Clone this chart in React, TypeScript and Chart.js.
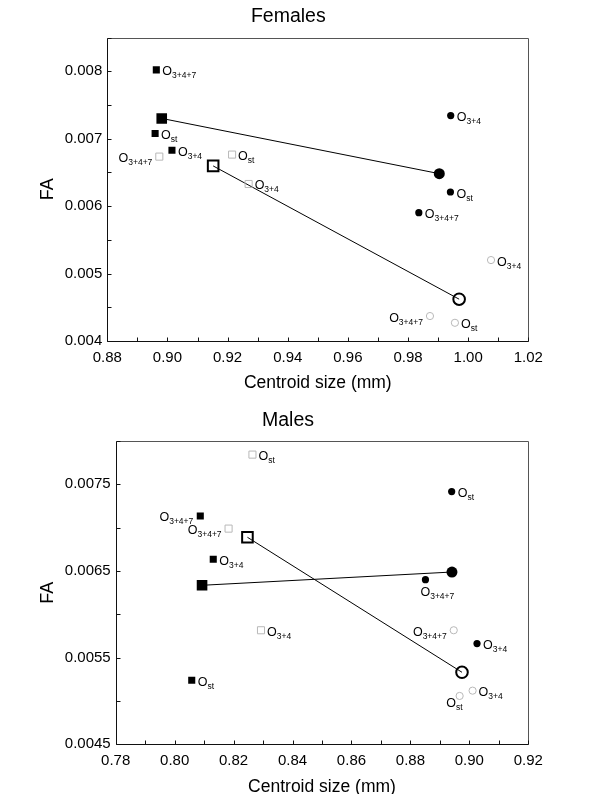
import React, { useEffect, useRef } from 'react';
import { Chart, registerables } from 'chart.js';

Chart.register(...registerables);

const FONT = "'Liberation Sans', Arial, sans-serif";

// ---------- Females ----------
const femaleXTicks = [0.88, 0.89, 0.9, 0.91, 0.92, 0.93, 0.94, 0.95, 0.96, 0.97, 0.98, 0.99, 1.0, 1.01, 1.02];
const femaleXTickLabels = ['0.88', '0.90', '0.92', '0.94', '0.96', '0.98', '1.00', '1.02'];
const femaleYTicks = [0.004, 0.0045, 0.005, 0.0055, 0.006, 0.0065, 0.007, 0.0075, 0.008, 0.0085];
const femaleYTickLabels = ['0.004', '0.005', '0.006', '0.007', '0.008'];

const femaleFilledSqX = [0.8963, 0.8959, 0.9015];
const femaleFilledSqY = [0.00802, 0.007076, 0.006828];
const femaleFilledSqLabels = ['3+4+7', 'st', '3+4'];

const femaleOpenSqX = [0.8973, 0.9215, 0.927];
const femaleOpenSqY = [0.006734, 0.006764, 0.006328];
const femaleOpenSqLabels = ['3+4+7', 'st', '3+4'];

const femaleFilledCircX = [0.9942, 0.9941, 0.9836];
const femaleFilledCircY = [0.007343, 0.006209, 0.005902];
const femaleFilledCircLabels = ['3+4', 'st', '3+4+7'];

const femaleOpenCircX = [1.0076, 0.9873, 0.9956];
const femaleOpenCircY = [0.0052, 0.00437, 0.00427];
const femaleOpenCircLabels = ['3+4', '3+4+7', 'st'];

const femaleFilledMeanX = [0.8981, 0.9904];
const femaleFilledMeanY = [0.0073, 0.006481];
const femaleOpenMeanX = [0.9152, 0.997];
const femaleOpenMeanY = [0.006596, 0.00462];

// ---------- Males ----------
const maleXTicks = [0.78, 0.79, 0.8, 0.81, 0.82, 0.83, 0.84, 0.85, 0.86, 0.87, 0.88, 0.89, 0.9, 0.91, 0.92];
const maleXTickLabels = ['0.78', '0.80', '0.82', '0.84', '0.86', '0.88', '0.90', '0.92'];
const maleYTicks = [0.0045, 0.005, 0.0055, 0.006, 0.0065, 0.007, 0.0075, 0.008];
const maleYTickLabels = ['0.0045', '0.0055', '0.0065', '0.0075'];

const maleFilledSqX = [0.8087, 0.8131, 0.8058];
const maleFilledSqY = [0.007135, 0.006635, 0.005239];
const maleFilledSqLabels = ['3+4+7', '3+4', 'st'];

const maleOpenSqX = [0.8264, 0.8183, 0.8293];
const maleOpenSqY = [0.007843, 0.006989, 0.005816];
const maleOpenSqLabels = ['st', '3+4+7', '3+4'];

const maleFilledCircX = [0.894, 0.8851, 0.9026];
const maleFilledCircY = [0.007416, 0.0064, 0.005662];
const maleFilledCircLabels = ['st', '3+4+7', '3+4'];

const maleOpenCircX = [0.8947, 0.9011, 0.8967];
const maleOpenCircY = [0.005816, 0.005119, 0.005058];
const maleOpenCircLabels = ['3+4+7', '3+4', 'st'];

const maleFilledMeanX = [0.8093, 0.8941];
const maleFilledMeanY = [0.006335, 0.006488];
const maleOpenMeanX = [0.8247, 0.8975];
const maleOpenMeanY = [0.006889, 0.005331];

// label placement (style): r = right, l = left, b = below, bl = below-left
const femalePlace = {
  filledSq: ['r', 'r', 'r'],
  openSq: ['l', 'r', 'r'],
  filledCirc: ['r', 'r', 'r'],
  openCirc: ['r', 'l', 'r'],
};
const malePlace = {
  filledSq: ['l', 'r', 'r'],
  openSq: ['r', 'l', 'r'],
  filledCirc: ['r', 'b', 'r'],
  openCirc: ['l', 'r', 'bl'],
};

const GRAY = '#b8b8b8';

type Spec = {
  title: string;
  xTicks: number[];
  xTickLabels: string[];
  yTicks: number[];
  yTickLabels: string[];
  groups: { x: number[]; y: number[]; labels: string[]; place: string[]; kind: string }[];
  filledMean: { x: number[]; y: number[] };
  openMean: { x: number[]; y: number[] };
  layout: { top: number; right: number; yWidth: number; xHeight: number; titleX: number; titleY: number };
};

const pts = (xs: number[], ys: number[]) => xs.map((x, i) => ({ x, y: ys[i] }));

function groupStyle(kind: string) {
  switch (kind) {
    case 'filledSq':
      return { pointStyle: 'rect', pointRadius: 5, pointBackgroundColor: '#000', pointBorderColor: '#000', pointBorderWidth: 0 };
    case 'openSq':
      return { pointStyle: 'rect', pointRadius: 5, pointBackgroundColor: 'rgba(255,255,255,0)', pointBorderColor: GRAY, pointBorderWidth: 1 };
    case 'filledCirc':
      return { pointStyle: 'circle', pointRadius: 3.6, pointBackgroundColor: '#000', pointBorderColor: '#000', pointBorderWidth: 0 };
    default:
      return { pointStyle: 'circle', pointRadius: 3.6, pointBackgroundColor: 'rgba(255,255,255,0)', pointBorderColor: GRAY, pointBorderWidth: 1 };
  }
}

function drawLabel(ctx: CanvasRenderingContext2D, px: number, py: number, sub: string, place: string) {
  const oFont = `12.5px ${FONT}`;
  const sFont = `8.5px ${FONT}`;
  ctx.font = oFont;
  const wO = ctx.measureText('O').width;
  ctx.font = sFont;
  const wS = ctx.measureText(sub).width;
  const total = wO + wS;
  let sx = px + 6;
  let cy = py + 1;
  if (place === 'l') {
    sx = px - 7 - total;
  } else if (place === 'b') {
    sx = px - 5;
    cy = py + 12;
  } else if (place === 'bl') {
    sx = px + 3 - total;
    cy = py + 7;
  }
  const base = cy + 4.5;
  ctx.fillStyle = '#000';
  ctx.textAlign = 'left';
  ctx.textBaseline = 'alphabetic';
  ctx.font = oFont;
  ctx.fillText('O', sx, base);
  ctx.font = sFont;
  ctx.fillText(sub, sx + wO, base + 3);
}

function makeConfig(spec: Spec): any {
  const datasets: any[] = spec.groups.map((g) => ({
    data: pts(g.x, g.y),
    showLine: false,
    ...groupStyle(g.kind),
  }));
  datasets.push({
    data: pts(spec.filledMean.x, spec.filledMean.y),
    showLine: true,
    borderColor: '#000',
    borderWidth: 1,
    pointStyle: ['rect', 'circle'],
    pointRadius: [7.5, 5.5],
    pointBackgroundColor: '#000',
    pointBorderColor: '#000',
    pointBorderWidth: 0,
  });
  datasets.push({
    data: pts(spec.openMean.x, spec.openMean.y),
    showLine: true,
    borderColor: '#000',
    borderWidth: 1,
    pointStyle: ['rect', 'circle'],
    pointRadius: [7.5, 5.8],
    pointBackgroundColor: 'rgba(255,255,255,0)',
    pointBorderColor: '#000',
    pointBorderWidth: 2,
  });

  const L = spec.layout;

  const decor = {
    id: 'decor',
    afterDraw(chart: any) {
      const ctx: CanvasRenderingContext2D = chart.ctx;
      const { left, right, top, bottom } = chart.chartArea;
      const l = Math.round(left) + 0.5;
      const r = Math.round(right) + 0.5;
      const t = Math.round(top) + 0.5;
      const b = Math.round(bottom) + 0.5;
      ctx.save();
      ctx.lineWidth = 1;
      // box
      ctx.strokeStyle = '#555';
      ctx.beginPath();
      ctx.moveTo(l, t);
      ctx.lineTo(r, t);
      ctx.lineTo(r, b);
      ctx.stroke();
      ctx.strokeStyle = '#111';
      ctx.beginPath();
      ctx.moveTo(l, t);
      ctx.lineTo(l, b);
      ctx.lineTo(r, b);
      ctx.stroke();
      // inward ticks
      const xs = chart.scales.x;
      const ys = chart.scales.y;
      ctx.beginPath();
      xs.ticks.forEach((_: any, i: number) => {
        const p = Math.round(xs.getPixelForTick(i)) + 0.5;
        ctx.moveTo(p, b);
        ctx.lineTo(p, b - 4);
      });
      ys.ticks.forEach((_: any, i: number) => {
        const p = Math.round(ys.getPixelForTick(i)) + 0.5;
        ctx.moveTo(l, p);
        ctx.lineTo(l + 4, p);
      });
      ctx.stroke();

      // point labels
      spec.groups.forEach((g, di) => {
        const meta = chart.getDatasetMeta(di);
        meta.data.forEach((el: any, j: number) => {
          drawLabel(ctx, el.x, el.y, g.labels[j], g.place[j]);
        });
      });

      // titles
      ctx.fillStyle = '#000';
      ctx.textAlign = 'center';
      ctx.textBaseline = 'alphabetic';
      ctx.font = `19.5px ${FONT}`;
      ctx.fillText(spec.title, L.titleX, L.titleY);

      ctx.font = `17.5px ${FONT}`;
      ctx.fillText('Centroid size (mm)', (left + right) / 2, bottom + 47.2);

      ctx.save();
      ctx.translate(45.4, (top + bottom) / 2);
      ctx.rotate(-Math.PI / 2);
      ctx.font = `18px ${FONT}`;
      ctx.fillText('FA', 0, 0);
      ctx.restore();

      ctx.restore();
    },
  };

  return {
    type: 'scatter',
    data: { datasets },
    options: {
      animation: false,
      responsive: true,
      maintainAspectRatio: false,
      events: [],
      layout: { padding: { top: L.top, right: L.right, left: 0, bottom: 0 } },
      plugins: { legend: { display: false }, tooltip: { enabled: false }, title: { display: false } },
      scales: {
        x: {
          type: 'linear',
          min: spec.xTicks[0],
          max: spec.xTicks[spec.xTicks.length - 1],
          border: { display: false },
          grid: { display: false, drawTicks: false, tickLength: 0 },
          afterBuildTicks: (scale: any) => {
            scale.ticks = spec.xTicks.map((value) => ({ value }));
          },
          afterFit: (scale: any) => {
            scale.height = L.xHeight;
          },
          ticks: {
            autoSkip: false,
            maxRotation: 0,
            padding: 8,
            color: '#000',
            font: { family: FONT, size: 15 },
            callback: (_v: any, i: number) => (i % 2 === 0 ? spec.xTickLabels[i / 2] : ''),
          },
        },
        y: {
          type: 'linear',
          min: spec.yTicks[0],
          max: spec.yTicks[spec.yTicks.length - 1],
          border: { display: false },
          grid: { display: false, drawTicks: false, tickLength: 0 },
          afterBuildTicks: (scale: any) => {
            scale.ticks = spec.yTicks.map((value) => ({ value }));
          },
          afterFit: (scale: any) => {
            scale.width = L.yWidth;
          },
          ticks: {
            autoSkip: false,
            padding: 5,
            color: '#000',
            font: { family: FONT, size: 15 },
            callback: (_v: any, i: number) => (i % 2 === 0 ? spec.yTickLabels[i / 2] : ''),
          },
        },
      },
    },
    plugins: [decor],
  };
}

const femaleSpec: Spec = {
  title: 'Females',
  xTicks: femaleXTicks,
  xTickLabels: femaleXTickLabels,
  yTicks: femaleYTicks,
  yTickLabels: femaleYTickLabels,
  groups: [
    { x: femaleFilledSqX, y: femaleFilledSqY, labels: femaleFilledSqLabels, place: femalePlace.filledSq, kind: 'filledSq' },
    { x: femaleOpenSqX, y: femaleOpenSqY, labels: femaleOpenSqLabels, place: femalePlace.openSq, kind: 'openSq' },
    { x: femaleFilledCircX, y: femaleFilledCircY, labels: femaleFilledCircLabels, place: femalePlace.filledCirc, kind: 'filledCirc' },
    { x: femaleOpenCircX, y: femaleOpenCircY, labels: femaleOpenCircLabels, place: femalePlace.openCirc, kind: 'openCirc' },
  ],
  filledMean: { x: femaleFilledMeanX, y: femaleFilledMeanY },
  openMean: { x: femaleOpenMeanX, y: femaleOpenMeanY },
  layout: { top: 29.5, right: 63.7, yWidth: 99.3, xHeight: 60, titleX: 280.3, titleY: 14 },
};

const maleSpec: Spec = {
  title: 'Males',
  xTicks: maleXTicks,
  xTickLabels: maleXTickLabels,
  yTicks: maleYTicks,
  yTickLabels: maleYTickLabels,
  groups: [
    { x: maleFilledSqX, y: maleFilledSqY, labels: maleFilledSqLabels, place: malePlace.filledSq, kind: 'filledSq' },
    { x: maleOpenSqX, y: maleOpenSqY, labels: maleOpenSqLabels, place: malePlace.openSq, kind: 'openSq' },
    { x: maleFilledCircX, y: maleFilledCircY, labels: maleFilledCircLabels, place: malePlace.filledCirc, kind: 'filledCirc' },
    { x: maleOpenCircX, y: maleOpenCircY, labels: maleOpenCircLabels, place: malePlace.openCirc, kind: 'openCirc' },
  ],
  filledMean: { x: maleFilledMeanX, y: maleFilledMeanY },
  openMean: { x: maleOpenMeanX, y: maleOpenMeanY },
  layout: { top: 40, right: 63.7, yWidth: 107.7, xHeight: 49.7, titleX: 280, titleY: 25 },
};

function Panel({ spec, height }: { spec: Spec; height: number }) {
  const ref = useRef<HTMLCanvasElement>(null);
  useEffect(() => {
    const chart = new Chart(ref.current as HTMLCanvasElement, makeConfig(spec));
    return () => chart.destroy();
  }, [spec]);
  return (
    <div style={{ position: 'relative', width: 584, height }}>
      <canvas ref={ref} />
    </div>
  );
}

export default function App() {
  return (
    <div style={{ width: 584, background: '#fff' }}>
      <Panel spec={femaleSpec} height={393} />
      <Panel spec={maleSpec} height={393} />
    </div>
  );
}
